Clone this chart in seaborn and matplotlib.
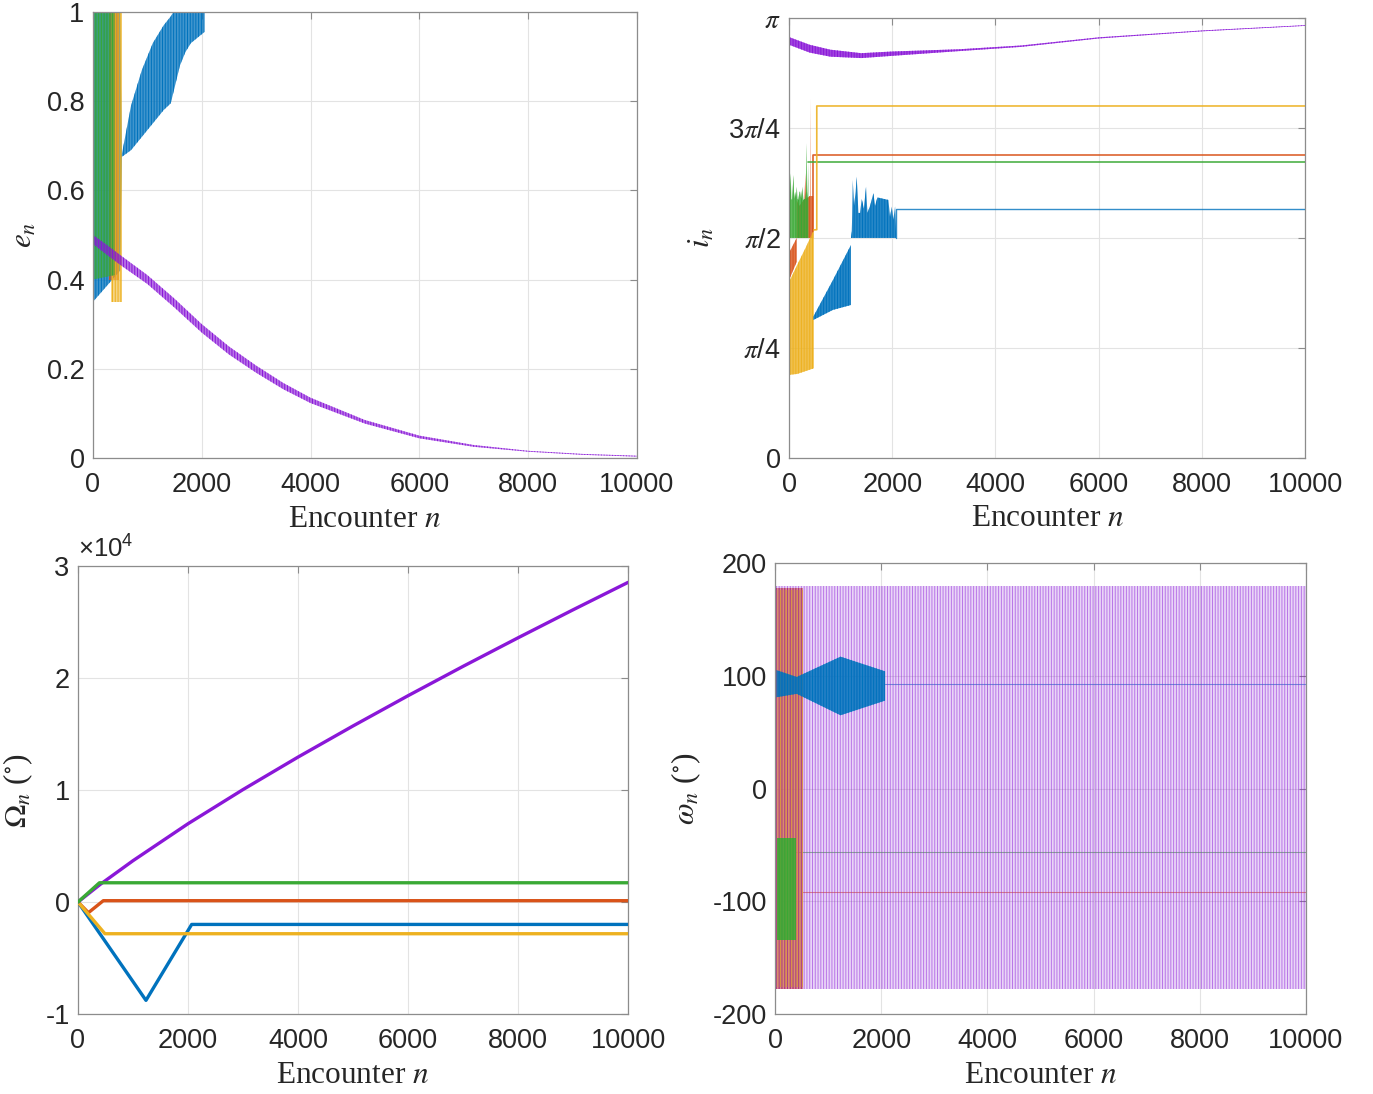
import numpy as np
import matplotlib
matplotlib.use('Agg')
import matplotlib.pyplot as plt
import seaborn as sns
from matplotlib.ticker import FuncFormatter

sns.set_style('white')
plt.rcParams['font.family'] = ['Liberation Sans', 'DejaVu Sans']
plt.rcParams['mathtext.fontset'] = 'stix'
plt.rcParams['hatch.linewidth'] = 0.7
plt.rcParams['axes.unicode_minus'] = False

BLUE = '#0072BD'
ORANGE = '#D95319'
YELLOW = '#EDB120'
GREEN = '#3AA935'
PURPLE = '#8A17D8'
GRAY = '#8c8c8c'

PI = np.pi

# ---------------- e_n (eccentricity) ----------------
pe_n = [0, 250, 500, 1000, 1500, 2000, 2500, 3000, 3500, 4000, 5000, 6000, 7000, 8000, 9000, 10000]
pe_hi = [0.50, 0.478, 0.455, 0.41, 0.357, 0.30, 0.25, 0.207, 0.168, 0.135, 0.085, 0.050, 0.029, 0.016, 0.009, 0.005]
pe_lo = [0.48, 0.456, 0.433, 0.39, 0.337, 0.281, 0.232, 0.191, 0.154, 0.123, 0.077, 0.044, 0.025, 0.014, 0.007, 0.003]

be_n = [0, 500, 530, 700, 900, 1100, 1300, 1430, 1480, 1600, 1700, 1800, 1950, 2050]
be_hi = [1, 1, 0.68, 0.79, 0.87, 0.93, 0.97, 0.99, 1, 1, 1, 1, 1, 1]
be_lo = [0.35, 0.42, 0.675, 0.69, 0.72, 0.75, 0.78, 0.795, 0.82, 0.88, 0.91, 0.93, 0.945, 0.955]

ge_n, ge_lo, ge_hi = [0, 400], [0.40, 0.41], [1, 1]
oe_n, oe_lo, oe_hi = [300, 480], [0.40, 0.40], [1, 1]
ye_n, ye_lo, ye_hi = [330, 540], [0.35, 0.35], [1, 1]

# ---------------- i_n (inclination, rad) ----------------
pi_n = [0, 400, 800, 1400, 2000, 3300, 4500, 6000, 8000, 10000]
pi_hi = [3.005, 2.95, 2.915, 2.89, 2.902, 2.918, 2.945, 3.003, 3.052, 3.09]
pi_lo = [2.95, 2.894, 2.865, 2.855, 2.871, 2.905, 2.935, 2.995, 3.046, 3.085]

bi_ramp_n = [470, 850, 1200]
bi_ramp_lo = [0.985, 1.057, 1.092]
bi_ramp_hi = [1.009, 1.27, 1.521]
bi_n = [1200, 1217, 1234, 1260, 1290, 1311, 1344, 1376, 1408, 1450, 1492, 1518,
        1570, 1634, 1667, 1712, 1925, 1957, 1990, 2021, 2054, 2074]
bi_hi = [1.571, 1.62, 1.985, 1.80, 1.90, 2.008, 1.75, 1.749, 1.85, 1.78, 1.937, 1.75,
         1.80, 1.89, 1.80, 1.86, 1.842, 1.72, 1.795, 1.70, 1.795, 1.60]
bi_flat_n, bi_flat = [2074, 2074, 10000], [1.571, 1.778, 1.778]

oi1_n, oi1_lo, oi1_hi = [0, 148], [1.27, 1.40], [1.464, 1.571]
oi2_n = [148, 200, 300, 316, 330, 400, 415, 420, 425, 470]
oi2_hi = [1.84, 1.80, 1.85, 2.035, 1.85, 1.87, 1.87, 2.568, 1.87, 1.87]
oi_flat_n, oi_flat = [470, 470, 10000], [1.62, 2.163, 2.163]

gi_n = [0, 20, 32, 45, 58, 75, 84, 100, 116, 135, 149, 165, 181, 200, 213, 235,
        258, 278, 310, 330, 342, 352, 362, 375]
gi_hi = [1.84, 1.90, 2.033, 1.85, 1.842, 1.95, 2.02, 1.85, 1.90, 1.86, 1.937, 1.85,
         1.842, 1.90, 1.902, 1.85, 1.937, 1.842, 1.85, 1.90, 2.247, 1.90, 1.85, 2.116]
gi_flat_n, gi_flat = [375, 10000], [2.116, 2.116]

yi_n = [0, 160, 320, 480]
yi_lo = [0.593, 0.60, 0.62, 0.64]
yi_hi = [1.257, 1.38, 1.50, 1.628]
yi_flat_n, yi_flat = [480, 537, 537, 10000], [1.628, 1.63, 2.513, 2.513]

# ---------------- Omega_n (deg) ----------------
po_n = [0, 200, 400, 1000, 1500, 2000, 3000, 4000, 5000, 6000, 7000, 8000, 9000, 10000]
po_v = [0, 780, 1560, 3690, 5340, 6990, 10040, 12940, 15720, 18420, 21040, 23590, 26090, 28540]
go_n, go_v = [0, 390, 10000], [0, 1720, 1720]
oo_n, oo_v = [0, 190, 460, 10000], [0, -950, 120, 120]
yo_n, yo_v = [0, 490, 10000], [0, -2830, -2830]
bo_n, bo_v = [0, 1236, 2067, 10000], [0, -8780, -2000, -2000]

# ---------------- omega_n (deg) ----------------
pw_n, pw_lo, pw_hi = [0, 10000], [-178, -178], [180, 180]
bw_n = [30, 408, 1233, 2072]
bw_lo = [81, 84, 65, 78]
bw_hi = [105, 99, 117, 104]
bw_flat_n, bw_flat = [2072, 10000], [92.7, 92.7]
gw_n, gw_lo, gw_hi = [30, 386], [-134, -134], [-44, -44]
gw_flat_n, gw_flat = [386, 10000], [-56, -56]
ow_n, ow_lo, ow_hi = [0, 520], [-178, -178], [178, 178]
ow_flat_n, ow_flat = [520, 10000], [-91.5, -91.5]
yw_n, yw_lo, yw_hi = [0, 530], [-176, -176], [176, 176]

TICK_FS = 19.5
LAB_FS = 22.5
SERIF = ['Liberation Serif', 'DejaVu Serif']


def band(ax, n, lo, hi, color, face_alpha=0.45, hatch_alpha=1.0, hatch='||||||', z=2):
    fc = matplotlib.colors.to_rgba(color, face_alpha)
    ec = matplotlib.colors.to_rgba(color, hatch_alpha)
    ax.fill_between(n, lo, hi, facecolor=fc, edgecolor=ec, hatch=hatch,
                    linewidth=0, zorder=z)


def line(ax, n, v, color, lw=1.0, alpha=1.0, z=3):
    sns.lineplot(x=n, y=v, ax=ax, color=color, linewidth=lw, alpha=alpha,
                 estimator=None, sort=False, zorder=z)


def style(ax, ylabel, ylab_x):
    ax.set_xlim(0, 10000)
    ax.set_xticks([0, 2000, 4000, 6000, 8000, 10000])
    ax.grid(True, color='#e3e3e3', linewidth=0.8, zorder=0)
    ax.set_axisbelow(True)
    for s in ax.spines.values():
        s.set_color(GRAY)
        s.set_linewidth(0.9)
        s.set_visible(True)
    ax.tick_params(direction='in', length=5, width=0.8, color=GRAY,
                   top=True, right=True, labelsize=TICK_FS)
    ax.tick_params(axis='x', pad=10)
    ax.tick_params(axis='y', pad=6)
    ax.set_xlabel(r'Encounter $n$', fontsize=LAB_FS, family=SERIF)
    ax.set_ylabel(ylabel, fontsize=LAB_FS, family=SERIF)
    ax.xaxis.set_label_coords(0.5, -0.105)
    ax.yaxis.set_label_coords(ylab_x, 0.5)


fig = plt.figure(figsize=(13.73, 10.94), dpi=100)
ax1 = fig.add_axes([0.0677, 0.5814, 0.3962, 0.4077])
ax2 = fig.add_axes([0.5747, 0.5814, 0.3758, 0.4022])
ax3 = fig.add_axes([0.0568, 0.0731, 0.4006, 0.4095])
ax4 = fig.add_axes([0.5645, 0.0731, 0.3867, 0.4122])

# e_n
band(ax1, be_n, be_lo, be_hi, BLUE, 0.75, z=2)
band(ax1, oe_n, oe_lo, oe_hi, ORANGE, 0.5, z=2.1)
band(ax1, ye_n, ye_lo, ye_hi, YELLOW, 0.55, z=2.2)
band(ax1, ge_n, ge_lo, ge_hi, GREEN, 0.55, z=2.3)
band(ax1, pe_n, pe_lo, pe_hi, PURPLE, 0.6, z=2.5)
ax1.set_ylim(0, 1)
ax1.set_yticks([0, 0.2, 0.4, 0.6, 0.8, 1])
ax1.set_yticklabels(['0', '0.2', '0.4', '0.6', '0.8', '1'])
style(ax1, r'$e_n$', -0.1)

# i_n
band(ax2, oi1_n, oi1_lo, oi1_hi, ORANGE, 0.8, z=2)
band(ax2, oi2_n, np.pi / 2, oi2_hi, ORANGE, 0.8, z=2)
band(ax2, yi_n, yi_lo, yi_hi, YELLOW, 0.8, z=2.2)
band(ax2, gi_n, np.pi / 2, gi_hi, GREEN, 0.8, z=2.3)
band(ax2, bi_ramp_n, bi_ramp_lo, bi_ramp_hi, BLUE, 0.85, z=2.4)
band(ax2, bi_n, np.pi / 2, bi_hi, BLUE, 0.85, z=2.4)
band(ax2, pi_n, pi_lo, pi_hi, PURPLE, 0.8, z=2.5)
line(ax2, bi_flat_n, bi_flat, BLUE, 1.0, 0.8)
line(ax2, oi_flat_n, oi_flat, ORANGE, 1.2, 0.9)
line(ax2, gi_flat_n, gi_flat, GREEN, 1.2, 0.9)
line(ax2, yi_flat_n, yi_flat, YELLOW, 1.2, 0.9)
ax2.set_ylim(0, PI)
ax2.set_yticks([0, PI / 4, PI / 2, 3 * PI / 4, PI])
ax2.set_yticklabels(['0', r'$\pi$/4', r'$\pi$/2', r'3$\pi$/4', r'$\pi$'])
style(ax2, r'$i_n$', -0.14)

# Omega_n
line(ax3, go_n, go_v, GREEN, 2.4, z=3.5)
line(ax3, oo_n, oo_v, ORANGE, 2.4, z=3.2)
line(ax3, bo_n, bo_v, BLUE, 2.4, z=3.1)
line(ax3, yo_n, yo_v, YELLOW, 2.4, z=3.3)
line(ax3, po_n, po_v, PURPLE, 2.4, z=3.4)
ax3.set_ylim(-10000, 30000)
ax3.set_yticks([-10000, 0, 10000, 20000, 30000])
ax3.yaxis.set_major_formatter(FuncFormatter(lambda v, p: f'{v / 1e4:g}'))
ax3.text(0.0, 1.008, r'$\mathregular{\times 10^4}$', transform=ax3.transAxes,
         fontsize=18.5, ha='left', va='bottom')
style(ax3, r'$\Omega_n$ ($^{\circ}$)', -0.078)

# omega_n
line(ax4, bw_flat_n, bw_flat, BLUE, 0.8, 0.6, z=1.5)
line(ax4, gw_flat_n, gw_flat, GREEN, 0.8, 0.6, z=1.5)
line(ax4, ow_flat_n, ow_flat, ORANGE, 0.8, 0.6, z=1.5)
band(ax4, ow_n, ow_lo, ow_hi, ORANGE, 0.55, z=1.8)
band(ax4, yw_n, yw_lo, yw_hi, YELLOW, 0.45, hatch='|||', z=1.9)
band(ax4, pw_n, pw_lo, pw_hi, PURPLE, 0.18, hatch_alpha=0.5, z=2)
band(ax4, bw_n, bw_lo, bw_hi, BLUE, 0.85, z=3)
band(ax4, gw_n, gw_lo, gw_hi, GREEN, 0.85, z=3)
ax4.set_ylim(-200, 200)
ax4.set_yticks([-200, -100, 0, 100, 200])
style(ax4, r'$\omega_n$ ($^{\circ}$)', -0.135)

fig.savefig('out.png', dpi=100)
